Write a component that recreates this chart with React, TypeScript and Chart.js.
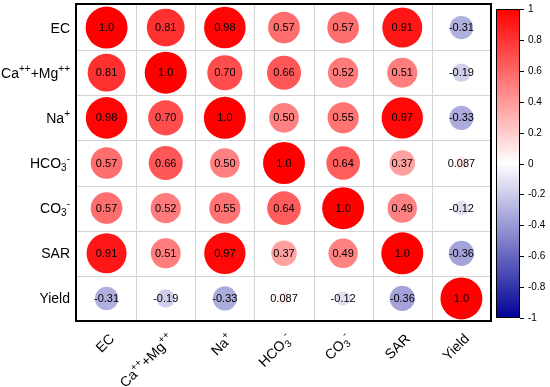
import React, { useEffect, useRef } from "react";
import { Chart, registerables } from "chart.js";

Chart.register(...registerables);

// ---------- data ----------
const VARIABLES = ["EC", "Ca++Mg++", "Na+", "HCO3-", "CO3-", "SAR", "Yield"];

const ROW_EC = [1.0, 0.81, 0.98, 0.57, 0.57, 0.91, -0.31];
const ROW_CAMG = [0.81, 1.0, 0.7, 0.66, 0.52, 0.51, -0.19];
const ROW_NA = [0.98, 0.7, 1.0, 0.5, 0.55, 0.97, -0.33];
const ROW_HCO3 = [0.57, 0.66, 0.5, 1.0, 0.64, 0.37, 0.087];
const ROW_CO3 = [0.57, 0.52, 0.55, 0.64, 1.0, 0.49, -0.12];
const ROW_SAR = [0.91, 0.51, 0.97, 0.37, 0.49, 1.0, -0.36];
const ROW_YIELD = [-0.31, -0.19, -0.33, 0.087, -0.12, -0.36, 1.0];

const MATRIX = [ROW_EC, ROW_CAMG, ROW_NA, ROW_HCO3, ROW_CO3, ROW_SAR, ROW_YIELD];

// rich label segments: [text, kind] kind: n | sup | sub
const RICH_LABELS: [string, string][][] = [
  [["EC", "n"]],
  [["Ca", "n"], ["++", "sup"], ["+Mg", "n"], ["++", "sup"]],
  [["Na", "n"], ["+", "sup"]],
  [["HCO", "n"], ["3", "sub"], ["-", "sup"]],
  [["CO", "n"], ["3", "sub"], ["-", "sup"]],
  [["SAR", "n"]],
  [["Yield", "n"]],
];

const COLORBAR_TICKS = [1, 0.8, 0.6, 0.4, 0.2, 0, -0.2, -0.4, -0.6, -0.8, -1];

const FONT = 'Arial, "Liberation Sans", sans-serif';

function corrColor(v: number): string {
  if (v >= 0) {
    const t = Math.min(1, v);
    const c = Math.round(255 * (1 - t));
    return `rgb(255,${c},${c})`;
  }
  const t = Math.min(1, -v);
  const c = Math.round(255 * (1 - t));
  const b = Math.round(255 * (1 - t) + 150 * t);
  return `rgb(${c},${c},${b})`;
}

function fmt(v: number): string {
  return v.toPrecision(2);
}

function richWidth(ctx: CanvasRenderingContext2D, segs: [string, string][], base: number, small: number) {
  let w = 0;
  for (const [t, k] of segs) {
    ctx.font = `${k === "n" ? base : small}px ${FONT}`;
    w += ctx.measureText(t).width;
  }
  return w;
}

function drawRich(
  ctx: CanvasRenderingContext2D,
  segs: [string, string][],
  xRight: number,
  yCenter: number,
  base: number,
  small: number
) {
  const w = richWidth(ctx, segs, base, small);
  let x = xRight - w;
  const baseline = yCenter + base * 0.36;
  ctx.textAlign = "left";
  ctx.textBaseline = "alphabetic";
  ctx.fillStyle = "#000";
  for (const [t, k] of segs) {
    ctx.font = `${k === "n" ? base : small}px ${FONT}`;
    let y = baseline;
    if (k === "sup") y = baseline - base * 0.42;
    if (k === "sub") y = baseline + base * 0.22;
    ctx.fillText(t, x, y);
    x += ctx.measureText(t).width;
  }
}

const points: { x: number; y: number; v: number }[] = [];
MATRIX.forEach((row, r) => row.forEach((v, c) => points.push({ x: c, y: r, v })));

const corrPlugin = {
  id: "corrPlugin",
  beforeDatasetsDraw(chart: any) {
    const ctx = chart.ctx as CanvasRenderingContext2D;
    const xs = chart.scales.x;
    const ys = chart.scales.y;
    const a = chart.chartArea;
    ctx.save();
    ctx.strokeStyle = "#d4d4d4";
    ctx.lineWidth = 1;
    for (let i = 0; i < VARIABLES.length - 1; i++) {
      const px = Math.round(xs.getPixelForValue(i + 0.5)) + 0.5;
      ctx.beginPath();
      ctx.moveTo(px, a.top);
      ctx.lineTo(px, a.bottom);
      ctx.stroke();
      const py = Math.round(ys.getPixelForValue(i + 0.5)) + 0.5;
      ctx.beginPath();
      ctx.moveTo(a.left, py);
      ctx.lineTo(a.right, py);
      ctx.stroke();
    }
    ctx.restore();
  },
  afterDatasetsDraw(chart: any) {
    const ctx = chart.ctx as CanvasRenderingContext2D;
    const xs = chart.scales.x;
    const ys = chart.scales.y;
    const a = chart.chartArea;
    ctx.save();
    // values
    ctx.font = `11px ${FONT}`;
    ctx.fillStyle = "#000";
    ctx.textAlign = "center";
    ctx.textBaseline = "middle";
    MATRIX.forEach((row, r) =>
      row.forEach((v, c) => {
        ctx.fillText(fmt(v), xs.getPixelForValue(c), ys.getPixelForValue(r) + 0.5);
      })
    );
    // frame
    ctx.strokeStyle = "#000";
    ctx.lineWidth = 2;
    ctx.strokeRect(a.left - 1, a.top - 1, a.right - a.left + 1, a.bottom - a.top + 1);

    // y labels
    RICH_LABELS.forEach((segs, i) => {
      drawRich(ctx, segs, a.left - 7, ys.getPixelForValue(i), 14, 10);
    });
    // x labels rotated
    RICH_LABELS.forEach((segs, i) => {
      ctx.save();
      ctx.translate(xs.getPixelForValue(i) + 5, a.bottom + 15);
      ctx.rotate(-Math.PI / 4);
      drawRich(ctx, segs, 0, 0, 14, 10);
      ctx.restore();
    });

    // colorbar
    const cbL = a.right + 5;
    const cbR = cbL + 24;
    const cbT = a.top + 4;
    const cbB = a.bottom - 3;
    const grad = ctx.createLinearGradient(0, cbT, 0, cbB);
    for (let k = 0; k <= 40; k++) {
      const v = 1 - (2 * k) / 40;
      grad.addColorStop(k / 40, corrColor(v));
    }
    ctx.fillStyle = grad;
    ctx.fillRect(cbL, cbT, cbR - cbL, cbB - cbT);
    ctx.strokeStyle = "#000";
    ctx.lineWidth = 1;
    ctx.strokeRect(cbL + 0.5, cbT + 0.5, cbR - cbL - 1, cbB - cbT - 1);
    ctx.font = `10px ${FONT}`;
    ctx.fillStyle = "#000";
    ctx.textAlign = "left";
    ctx.textBaseline = "middle";
    COLORBAR_TICKS.forEach((t) => {
      const py = Math.round(cbT + ((1 - t) / 2) * (cbB - cbT)) + 0.5;
      ctx.beginPath();
      ctx.moveTo(cbR, py);
      ctx.lineTo(cbR + 4, py);
      ctx.stroke();
      ctx.fillText(String(t), cbR + 8, py);
    });
    ctx.restore();
  },
};

export default function App() {
  const ref = useRef<HTMLCanvasElement>(null);
  useEffect(() => {
    if (!ref.current) return;
    const radius = (c: any) => {
      const ar = c.chart.chartArea;
      if (!ar || !c.raw) return 0;
      const cellH = (ar.bottom - ar.top) / VARIABLES.length;
      return 0.465 * cellH * Math.sqrt(Math.abs(c.raw.v));
    };
    const chart = new Chart(ref.current, {
      type: "scatter",
      data: {
        datasets: [
          {
            data: points as any,
            pointRadius: radius,
            pointHoverRadius: radius,
            pointBackgroundColor: (c: any) => (c.raw ? corrColor(c.raw.v) : "#fff"),
            pointBorderWidth: 0,
            pointBorderColor: "rgba(0,0,0,0)",
          } as any,
        ],
      },
      options: {
        animation: false,
        responsive: false,
        events: [],
        layout: { padding: { left: 77, right: 59, top: 5, bottom: 66 } },
        plugins: { legend: { display: false }, tooltip: { enabled: false } },
        scales: {
          x: { type: "linear", min: -0.5, max: 6.5, display: false },
          y: { type: "linear", min: -0.5, max: 6.5, reverse: true, display: false },
        },
      },
      plugins: [corrPlugin],
    });
    return () => chart.destroy();
  }, []);
  return (
    <div style={{ position: "fixed", left: 0, top: 0, width: 550, height: 387, background: "#fff" }}>
      <canvas ref={ref} width={550} height={387} style={{ display: "block" }} />
    </div>
  );
}
